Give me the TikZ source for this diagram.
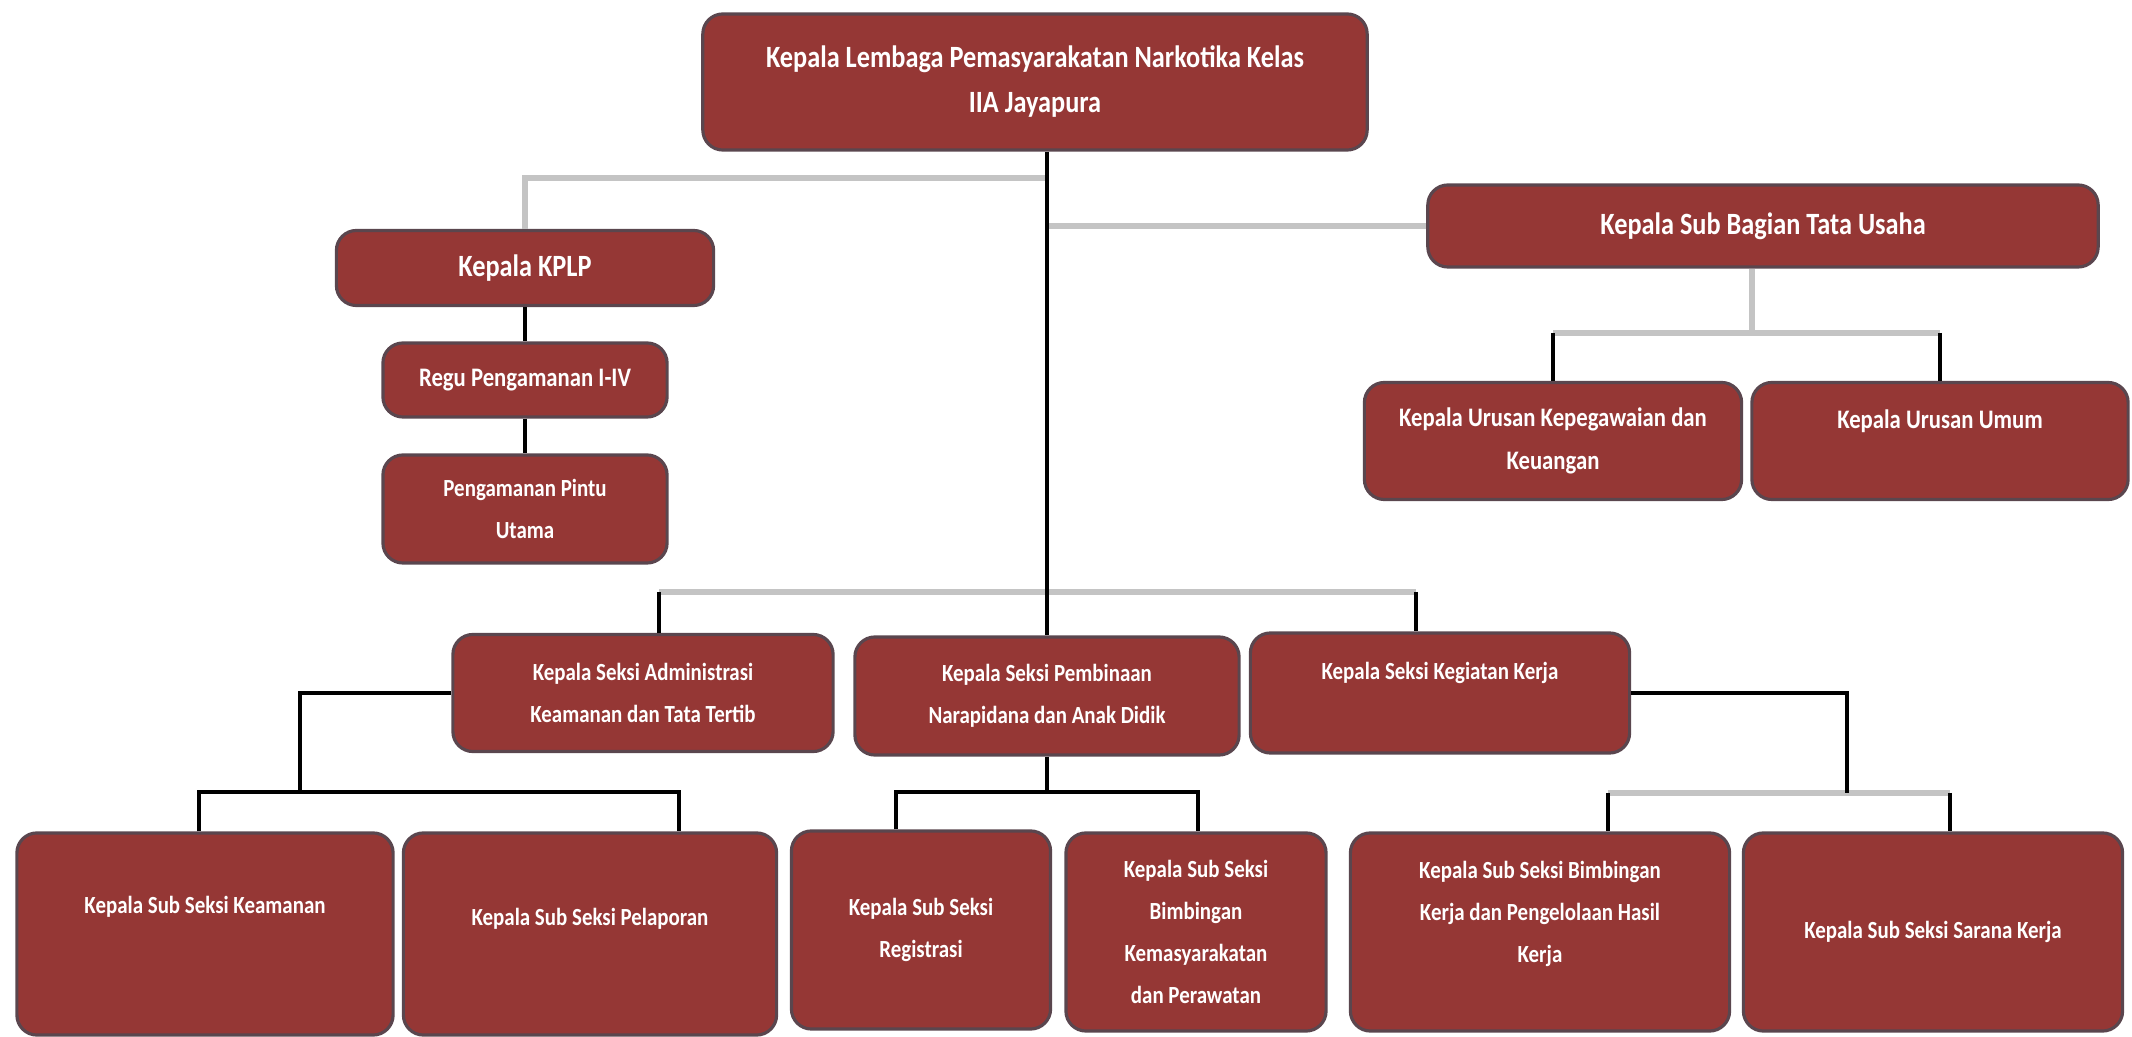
\documentclass[tikz,border=0pt]{standalone}
\usepackage{fontspec}
\setmainfont{Carlito}[FakeStretch=0.85]
\usepackage{tikz}
\definecolor{boxred}{HTML}{953735}
\definecolor{boxline}{HTML}{5A464E}
\definecolor{linegray}{HTML}{C4C4C4}
\tikzset{box/.style = {draw=boxline, fill=boxred, line width=0.9pt,
                       rounded corners=0.2cm, text=white, align=center,
                       inner sep=2pt, font=\bfseries\fontsize{7}{12}\selectfont}}
\tikzset{big/.style = {font=\bfseries\fontsize{8.8}{12.8}\selectfont}}
\tikzset{mid/.style = {font=\bfseries\fontsize{7.6}{12.4}\selectfont}}
\tikzset{blk/.style = {black, line width=1.1pt}}
\tikzset{gry/.style = {linegray, line width=1.8pt}}

\begin{document}
\begin{tikzpicture}[x=0.01cm, y=0.01cm]
      \useasboundingbox (0, 0) rectangle (2132, -1037);

      \node [box, big, minimum width=6.64cm, minimum height=1.36cm] (kalapas) at (1035, -82)
            {Kepala Lembaga Pemasyarakatan Narkotika Kelas\\IIA Jayapura};
      \node [box, big, minimum width=3.77cm, minimum height=0.75cm] (kplp) at (525, -268) {Kepala KPLP};
      \node [box, mid, minimum width=2.84cm, minimum height=0.74cm] (regu) at (525, -380) {Regu Pengamanan I-IV};
      \node [box, minimum width=2.84cm, minimum height=1.08cm] (pintu) at (525, -509) {Pengamanan Pintu\\Utama};
      \node [box, big, minimum width=6.70cm, minimum height=0.82cm] (tata) at (1763, -226) {Kepala Sub Bagian Tata Usaha};
      \node [box, mid, minimum width=3.77cm, minimum height=1.17cm] (kepeg) at (1553, -441)
            {Kepala Urusan Kepegawaian dan\\Keuangan};
      \node [box, mid, minimum width=3.76cm, minimum height=1.17cm, text depth=0.43cm] (umum) at (1940, -441)
            {Kepala Urusan Umum};

      \node [box, minimum width=3.80cm, minimum height=1.17cm] (admin) at (643, -693)
            {Kepala Seksi Administrasi\\Keamanan dan Tata Tertib};
      \node [box, minimum width=3.84cm, minimum height=1.18cm] (pembinaan) at (1047, -696)
            {Kepala Seksi Pembinaan\\Narapidana dan Anak Didik};
      \node [box, minimum width=3.79cm, minimum height=1.20cm, text depth=0.45cm] (kegiatan) at (1440, -693)
            {Kepala Seksi Kegiatan Kerja};

      \node [box, minimum width=3.76cm, minimum height=2.02cm, text depth=0.59cm] (keamanan) at (205, -934)
            {Kepala Sub Seksi Keamanan};
      \node [box, minimum width=3.73cm, minimum height=2.02cm, text depth=0.35cm] (pelaporan) at (590, -934)
            {Kepala Sub Seksi Pelaporan};
      \node [box, minimum width=2.59cm, minimum height=1.98cm] (registrasi) at (921, -930)
            {Kepala Sub Seksi\\Registrasi};
      \node [box, minimum width=2.60cm, minimum height=1.98cm] (bimkemas) at (1196, -932)
            {Kepala Sub Seksi\\Bimbingan\\Kemasyarakatan\\dan Perawatan};
      \node [box, minimum width=3.79cm, minimum height=1.98cm, text depth=0.40cm] (bimker) at (1540, -932)
            {Kepala Sub Seksi Bimbingan\\Kerja dan Pengelolaan Hasil\\Kerja};
      \node [box, minimum width=3.79cm, minimum height=1.98cm] (sarana) at (1933, -932)
            {Kepala Sub Seksi Sarana Kerja};

      \coordinate (j1) at (1047, -178);
      \coordinate (t1) at (1752, -333);
      \coordinate (m1) at (659, -592);
      \coordinate (m2) at (1416, -592);
      \coordinate (a0) at (300, -792);
      \coordinate (a1) at (199, -792);
      \coordinate (a2) at (679, -792);
      \coordinate (p1) at (896, -792);
      \coordinate (p2) at (1198, -792);
      \coordinate (g0) at (1847, -793);
      \coordinate (g1) at (1608, -793);
      \coordinate (g2) at (1950, -793);

      \draw [gry] (j1) -| (kplp.north);
      \draw [gry] (tata.west) -- (tata.west -| j1);
      \draw [gry] (tata.south -| t1) -- (t1);
      \draw [gry] (kepeg.north |- t1) -- (umum.north |- t1);
      \draw [gry] (m1) -- (m2);
      \draw [gry] (g1) -- (g2);

      \draw [blk] (kalapas.south -| pembinaan.north) -- (pembinaan.north);
      \draw [blk] (kplp) -- (regu);
      \draw [blk] (regu) -- (pintu);
      \draw [blk] (kepeg.north |- t1) -- (kepeg.north);
      \draw [blk] (umum.north |- t1) -- (umum.north);
      \draw [blk] (m1) -- (m1 |- admin.north);
      \draw [blk] (m2) -- (m2 |- kegiatan.north);

      \draw [blk] (admin.west) -| (a0);
      \draw [blk] (a1 |- keamanan.north) -- (a1) -- (a2) -- (a2 |- pelaporan.north);
      \draw [blk] (pembinaan.south) -- (pembinaan.south |- p1);
      \draw [blk] (p1 |- registrasi.north) -- (p1) -- (p2) -- (p2 |- bimkemas.north);
      \draw [blk] (kegiatan.east) -| (g0);
      \draw [blk] (g1) -- (g1 |- bimker.north);
      \draw [blk] (g2) -- (g2 |- sarana.north);
\end{tikzpicture}
\end{document}
